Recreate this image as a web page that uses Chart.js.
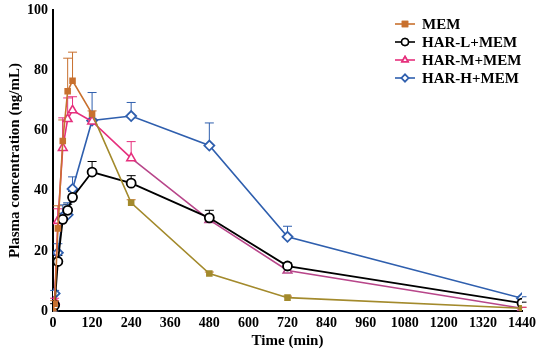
<!DOCTYPE html>
<html>
<head>
<meta charset="utf-8">
<script src="https://cdn.jsdelivr.net/npm/chart.js@4.4.0/dist/chart.umd.min.js"></script>
<style>
  html, body { margin: 0; padding: 0; background: #fff; }
  #wrap { width: 550px; height: 360px; }
</style>
</head>
<body>
<div id="wrap"><canvas id="c"></canvas></div>
<script>
// sampling times (min)
const times = [0, 5, 15, 30, 45, 60, 120, 240, 480, 720, 1440];

const labels = ['MEM', 'HAR-L+MEM', 'HAR-M+MEM', 'HAR-H+MEM'];

const memVals  = [0, 2.5, 27.5, 56.5, 73, 76.5, 65.5, 36, 12.5, 4.5, 1];
const memErr   = [0, 1, 7.5, 7, 11, 9.5, 1, 1, 0.5, 0.5, 0.3];

const harLVals = [0, 2, 16.5, 30.5, 33.5, 37.8, 46.2, 42.5, 31, 15, 2.7];
const harLErr  = [0, 0.5, 2, 2, 2, 2, 3.5, 2.5, 2.5, 1, 0.3];

const harMVals = [0, 3.3, 30, 54.2, 63.8, 66.7, 63, 50.8, 30.3, 13.5, 1];
const harMErr  = [0, 1, 4, 10, 7, 4.5, 1, 5.5, 1, 1, 0.3];

const harHVals = [0, 5.9, 19.4, 31.3, 32, 40.6, 63.3, 64.8, 55, 24.7, 4.3];
const harHErr  = [0, 1, 3, 4, 4, 4, 9.3, 4.5, 7.5, 3.5, 0.5];

const yTicks = [0, 20, 40, 60, 80, 100];

const FONT = "'Liberation Serif', 'Times New Roman', serif";

function toPoints(vals) {
    return times.map((t, i) => ({x: t, y: vals[i]}));
}

const orange = '#c8702e';
const olive = '#a38a2c';
const pink = '#e6307d';
const plum = '#b8468a';
const blue = '#2f5fae';

const datasets = [
    {
        label: labels[0], data: toPoints(memVals), err: memErr,
        borderColor: orange, backgroundColor: orange,
        pointStyle: 'rect', pointRadius: 3.5,
        pointBackgroundColor: times.map((t, i) => i >= 7 ? olive : orange),
        pointBorderColor: times.map((t, i) => i >= 7 ? olive : orange),
        segment: { borderColor: ctx => ctx.p0DataIndex >= 6 ? olive : orange },
        borderWidth: 1.6, errColor: orange
    },
    {
        label: labels[1], data: toPoints(harLVals), err: harLErr,
        borderColor: '#000', backgroundColor: '#fff',
        pointStyle: 'circle', pointRadius: 4.5, pointBorderWidth: 1.8,
        borderWidth: 1.8, errColor: '#000'
    },
    {
        label: labels[2], data: toPoints(harMVals), err: harMErr,
        borderColor: pink, backgroundColor: '#fff',
        pointStyle: 'triangle', pointRadius: 5, pointBorderWidth: 1.6,
        pointBorderColor: times.map((t, i) => i >= 8 ? plum : pink),
        segment: { borderColor: ctx => ctx.p0DataIndex >= 7 ? plum : pink },
        borderWidth: 1.6, errColor: pink
    },
    {
        label: labels[3], data: toPoints(harHVals), err: harHErr,
        borderColor: blue, backgroundColor: '#fff',
        pointStyle: 'rectRot', pointRadius: 5, pointBorderWidth: 1.8,
        borderWidth: 1.6, errColor: blue
    }
];

// upper error bars with caps, drawn under the markers
const errorBars = {
    id: 'errorBars',
    beforeDatasetsDraw(chart) {
        const ctx = chart.ctx;
        const xs = chart.scales.x, ys = chart.scales.y;
        ctx.save();
        chart.data.datasets.forEach(ds => {
            ctx.strokeStyle = ds.errColor;
            ctx.lineWidth = 1;
            ds.data.forEach((p, i) => {
                const e = ds.err[i];
                if (!e) return;
                const x = xs.getPixelForValue(p.x);
                const y0 = ys.getPixelForValue(p.y);
                const y1 = ys.getPixelForValue(p.y + e);
                ctx.beginPath();
                ctx.moveTo(x, y0);
                ctx.lineTo(x, y1);
                ctx.moveTo(x - 4.5, y1);
                ctx.lineTo(x + 4.5, y1);
                ctx.stroke();
            });
        });
        ctx.restore();
    }
};

// legend drawn as line + marker, like the original figure
const lineLegend = {
    id: 'lineLegend',
    afterDraw(chart) {
        const ctx = chart.ctx;
        const area = chart.chartArea;
        const x0 = area.right - 127;
        const y0 = area.top + 14;
        const rowH = 18;
        ctx.save();
        chart.data.datasets.forEach((ds, i) => {
            const y = y0 + i * rowH;
            const col = Array.isArray(ds.pointBorderColor) ? ds.pointBorderColor[0] : ds.borderColor;
            ctx.strokeStyle = ds.borderColor;
            ctx.lineWidth = 1.6;
            ctx.beginPath();
            ctx.moveTo(x0, y);
            ctx.lineTo(x0 + 20, y);
            ctx.stroke();
            Chart.helpers.drawPoint(ctx, {
                pointStyle: ds.pointStyle,
                radius: 3.5,
                borderWidth: 1.6,
                rotation: 0
            }, x0 + 10, y);
            ctx.fillStyle = ds.pointStyle === 'rect' ? ds.borderColor : '#fff';
            ctx.strokeStyle = col;
            ctx.fill();
            ctx.stroke();
            ctx.fillStyle = '#000';
            ctx.font = 'bold 15px ' + FONT;
            ctx.textBaseline = 'middle';
            ctx.fillText(ds.label, x0 + 27, y + 1);
        });
        ctx.restore();
    }
};

new Chart(document.getElementById('c'), {
    type: 'line',
    data: { datasets: datasets },
    options: {
        responsive: true,
        maintainAspectRatio: false,
        animation: false,
        layout: { padding: { top: 10, right: 28, left: 2, bottom: 10 } },
        plugins: {
            legend: { display: false },
            tooltip: { enabled: false }
        },
        scales: {
            x: {
                type: 'linear', min: 0, max: 1440,
                border: { color: '#000', width: 2 },
                grid: { display: false, drawOnChartArea: false, drawTicks: true, tickLength: 4, tickColor: '#000', tickWidth: 2 },
                ticks: {
                    stepSize: 120, color: '#000', padding: 0, maxRotation: 0,
                    callback: v => String(v),
                    font: { family: FONT, size: 14, weight: 'bold' }
                },
                title: { display: true, text: 'Time (min)', color: '#000', padding: { top: 0, bottom: 0 }, font: { family: FONT, size: 15, weight: 'bold' } }
            },
            y: {
                min: 0, max: 100,
                afterBuildTicks: axis => { axis.ticks = yTicks.map(v => ({value: v})); },
                border: { color: '#000', width: 2 },
                grid: { display: false, drawOnChartArea: false, drawTicks: true, tickLength: 4, tickColor: '#000', tickWidth: 2 },
                ticks: { color: '#000', padding: 1, font: { family: FONT, size: 14, weight: 'bold' } },
                title: { display: true, text: 'Plasma concentration (ng/mL)', color: '#000', padding: { bottom: 2 }, font: { family: FONT, size: 15, weight: 'bold' } }
            }
        }
    },
    plugins: [errorBars, lineLegend]
});
</script>
</body>
</html>
